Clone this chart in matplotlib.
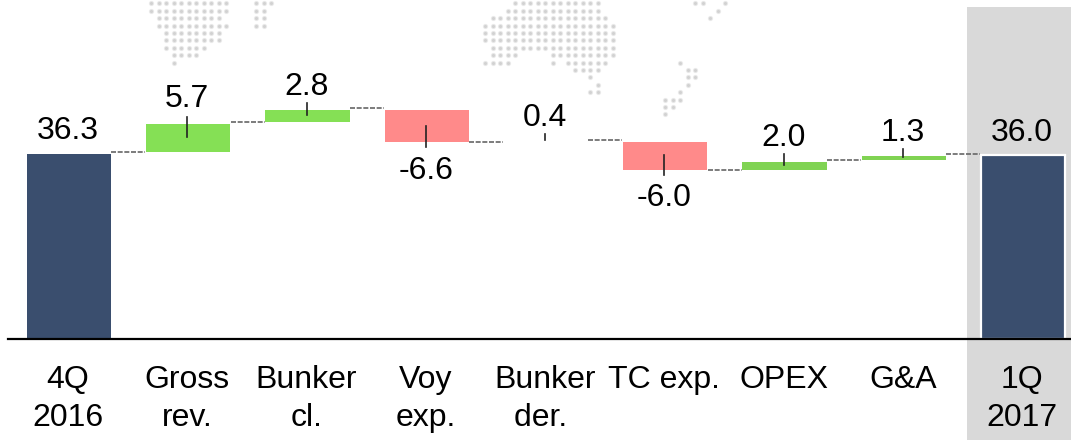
import matplotlib
matplotlib.use("Agg")
import matplotlib.pyplot as plt

plt.rcParams['font.family'] = ['Liberation Sans', 'DejaVu Sans']

categories = ["4Q\n2016", "Gross\nrev.", "Bunker\ncl.", "Voy\nexp.", "Bunker\nder. ",
              "TC exp.", "OPEX", "G&A", "1Q\n2017"]
value_labels = ["36.3", "5.7", "2.8", "-6.6", "0.4", "-6.0", "2.0", "1.3", "36.0"]
bar_low = [0, 36.7, 42.5, 38.6, 38.6, 33.1, 33.1, 35.1, 0]
bar_high = [36.3, 42.2, 44.9, 44.9, 39.0, 38.6, 34.7, 35.9, 36.0]
connector_levels = [36.7, 42.5, 45.3, 38.6, 39.0, 33.1, 35.1, 36.3]

# layout, in chart units
label_levels = [40.8, 47.0, 49.4, 32.9, 43.3, 27.6, 39.4, 40.4, 40.3]
leader_top = [None, 43.5, 46.3, 41.8, 40.2, 36.1, 36.3, 37.3, None]
leader_bottom = [None, 39.6, 43.9, 37.6, 39.0, 32.2, 34.1, 35.7, None]
bar_colors = ['#3a4e6e', '#85e055', '#85e055', '#ff8a8a', 'white',
              '#ff8a8a', '#80d353', '#80d353', '#3a4e6e']

# dotted world map: (first column, last column) runs per row of the grid
map_left = [
    [(0, 10), (14, 16)], [(0, 10), (14, 15)], [(1, 9), (14, 15)], [(1, 10), (14, 15)],
    [(2, 9)], [(2, 9)], [(2, 7)], [(3, 6)], [(3, 3)],
]
map_right = [
    [(4, 15), (28, 29), (32, 32)], [(3, 15), (31, 31)], [(1, 16), (30, 30)], [(0, 17)],
    [(0, 17)], [(0, 17)], [(1, 17)], [(1, 4), (9, 17)], [(0, 3), (9, 9), (11, 16), (26, 26)],
    [(12, 15), (27, 28)], [(14, 14), (27, 28)], [(15, 15), (27, 27)], [(14, 15), (26, 26)],
    [(24, 26)], [(24, 25)], [(24, 24)],
]

W, H = 1071, 441
fig = plt.figure(figsize=(W / 100, H / 100), dpi=100)

# map sits behind the chart, drawn in pixel coordinates
bg = fig.add_axes([0, 0, 1, 1])
bg.set_xlim(0, W)
bg.set_ylim(H, 0)
bg.axis("off")
for x0, rows in ((151, map_left), (485, map_right)):
    xs, ys = [], []
    for r, runs in enumerate(rows):
        for a, b in runs:
            for c in range(a, b + 1):
                xs.append(x0 + 7.5 * c)
                ys.append(3.3 + 7.4 * r)
    bg.scatter(xs, ys, s=14, color='#e9e9e9', linewidths=0)
    bg.scatter(xs, ys, s=5, color='#d2d2d2', linewidths=0)

# main axes: bottom edge is the baseline
left_px = 8
ax = fig.add_axes([left_px / W, (H - 339) / H, 1 - left_px / W, 339 / H])
ax.patch.set_alpha(0)
step = 119.25
ax.set_xlim((left_px - 69) / step, (W - 69) / step)
ax.set_ylim(0, 339 / 5.1)
for s in ('top', 'left', 'right'):
    ax.spines[s].set_visible(False)
ax.spines['bottom'].set_linewidth(1.6)
ax.spines['bottom'].set_color('black')
ax.set_yticks([])

xpos = list(range(len(categories)))
ax.set_xticks([x - 0.008 for x in xpos])
ax.set_xticklabels(categories, fontsize=23, linespacing=1.34)
ax.tick_params(axis='x', length=0, pad=19)

# highlight band behind last bar
ax.axvspan((967 - 69) / step, (W - 69) / step, ymin=-0.298, ymax=0.98,
           facecolor='#d9d9d9', edgecolor='none', clip_on=False, zorder=0)

heights = [h - l for h, l in zip(bar_high, bar_low)]
bars = ax.bar(xpos, heights, bottom=bar_low, width=0.705, color=bar_colors, zorder=2)
bars[-1].set_edgecolor('white')
bars[-1].set_linewidth(1.6)

# dashed connectors between neighbouring bars
for i, level in enumerate(connector_levels):
    ax.plot([i + 0.355, i + 1 - 0.36], [level, level], color='#666666', lw=1.2,
            ls=(0, (3, 1)), zorder=3)

# leaders and value labels
for i, txt in enumerate(value_labels):
    if leader_top[i] is not None:
        ax.plot([i - 0.008, i - 0.008], [leader_bottom[i], leader_top[i]], color='#222222',
                lw=1.2, zorder=4)
    ax.text(i - 0.008, label_levels[i], txt, fontsize=23, ha='center', va='center',
            color='black', zorder=5)

fig.savefig("out.png", dpi=100)
